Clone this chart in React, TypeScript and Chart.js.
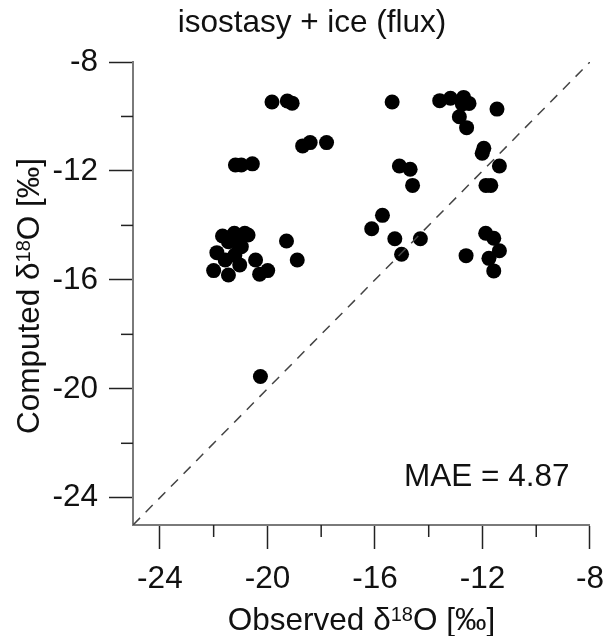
import React, { useEffect, useRef } from "react";
import { Chart, registerables } from "chart.js";

Chart.register(...registerables);

// Observed δ18O (x) and computed δ18O (y) per site
const observed: number[] = [
  -19.83, -19.26, -19.08, -15.36, -18.69, -18.41, -17.8, -21.19, -20.97, -20.56,
  -15.09, -14.69, -14.6, -15.72, -16.12, -15.26, -15.01, -14.31, -19.29, -18.89,
  -21.67, -21.23, -20.84, -21.45, -21.15, -21.88, -21.57, -21.21, -21.03, -20.44,
  -22.0, -21.45, -20.29, -19.99, -20.97, -21.33, -20.72, -13.59, -13.19, -12.7,
  -12.5, -12.75, -11.46, -12.86, -12.59, -11.95, -12.01, -11.37, -11.87, -11.69,
  -12.61, -11.88, -11.58, -11.37, -11.76, -11.58, -20.26,
];
const computed: number[] = [
  -9.47, -9.43, -9.51, -9.47, -11.08, -10.96, -10.96, -11.78, -11.78, -11.74,
  -11.82, -11.94, -12.53, -13.63, -14.12, -14.49, -15.06, -14.49, -14.57, -15.27,
  -14.39, -14.29, -14.29, -14.6, -14.6, -15.0, -15.27, -15.09, -15.45, -15.27,
  -15.66, -15.82, -15.79, -15.66, -14.78, -14.41, -14.35, -9.42, -9.33, -9.3,
  -9.52, -9.54, -9.73, -10.01, -10.41, -11.17, -11.35, -11.82, -12.53, -12.53,
  -15.11, -14.29, -14.47, -14.93, -15.21, -15.67, -19.55,
];

const axisMin = -25;
const axisMax = -8;
const majorTicks: number[] = [-24, -20, -16, -12, -8];
const minorTicks: number[] = [-22, -18, -14, -10];
const oneToOne: number[] = [-25, -8];

const titleText = "isostasy + ice (flux)";
const maeText = "MAE = 4.87";
const xTitleParts = [
  { t: "Observed \u03B4" },
  { t: "18", sup: true },
  { t: "O [\u2030]" },
];
const yTitleParts = [
  { t: "Computed \u03B4" },
  { t: "18", sup: true },
  { t: "O [\u2030]" },
];

const FONT = "'Liberation Sans', Arial, sans-serif";
const FS = 31.5;

function drawRich(ctx: CanvasRenderingContext2D, parts: { t: string; sup?: boolean }[], cx: number, baseY: number) {
  const big = `${FS}px ${FONT}`;
  const small = `20px ${FONT}`;
  let total = 0;
  const widths = parts.map((p) => {
    ctx.font = p.sup ? small : big;
    const w = ctx.measureText(p.t).width;
    total += w;
    return w;
  });
  let x = cx - total / 2;
  ctx.textAlign = "left";
  ctx.textBaseline = "alphabetic";
  parts.forEach((p, i) => {
    ctx.font = p.sup ? small : big;
    ctx.fillText(p.t, x, p.sup ? baseY - 9 : baseY);
    x += widths[i];
  });
}

const textPlugin = {
  id: "textPlugin",
  afterDraw(chart: any) {
    const ctx: CanvasRenderingContext2D = chart.ctx;
    const xs = chart.scales.x;
    const ys = chart.scales.y;
    const area = chart.chartArea;
    ctx.save();
    // minor ticks
    ctx.strokeStyle = "#222";
    ctx.lineWidth = 1.5;
    minorTicks.forEach((v) => {
      const px = xs.getPixelForValue(v);
      ctx.beginPath();
      ctx.moveTo(px, area.bottom);
      ctx.lineTo(px, area.bottom + 12);
      ctx.stroke();
      const py = ys.getPixelForValue(v);
      ctx.beginPath();
      ctx.moveTo(area.left, py);
      ctx.lineTo(area.left - 12, py);
      ctx.stroke();
    });
    ctx.fillStyle = "#111";
    ctx.font = `${FS}px ${FONT}`;
    ctx.textAlign = "center";
    ctx.textBaseline = "alphabetic";
    ctx.fillText(titleText, 312, 32);
    ctx.textAlign = "left";
    ctx.fillText(maeText, 404, 486);
    drawRich(ctx, xTitleParts, (area.left + area.right) / 2, 630);
    ctx.translate(39, 296);
    ctx.rotate(-Math.PI / 2);
    drawRich(ctx, yTitleParts, 0, 0);
    ctx.restore();
  },
};

export default function App() {
  const ref = useRef<HTMLCanvasElement | null>(null);
  useEffect(() => {
    if (!ref.current) return;
    const tickFont = { family: FONT, size: FS };
    const chart = new Chart(ref.current, {
      type: "scatter",
      data: {
        datasets: [
          {
            type: "line",
            data: oneToOne.map((v) => ({ x: v, y: v })),
            borderColor: "#444",
            borderWidth: 1.5,
            borderDash: [10, 8],
            pointRadius: 0,
            fill: false,
          } as any,
          {
            data: observed.map((v, i) => ({ x: v, y: computed[i] })),
            backgroundColor: "#000",
            borderColor: "#000",
            pointRadius: 7.5,
            borderWidth: 0,
          },
        ],
      },
      options: {
        responsive: false,
        animation: false,
        layout: { padding: { left: 0, top: 62, right: 17, bottom: 0 } },
        plugins: { legend: { display: false }, tooltip: { enabled: false } },
        scales: {
          x: {
            type: "linear",
            min: axisMin,
            max: axisMax,
            afterBuildTicks: (s: any) => {
              s.ticks = majorTicks.map((v) => ({ value: v }));
            },
            afterFit: (s: any) => {
              s.height = 111;
            },
            grid: {
              drawOnChartArea: false,
              drawTicks: true,
              tickLength: 24,
              tickColor: "#222",
              tickWidth: 1.5,
            },
            border: { display: true, color: "#7a7a7a", width: 2 },
            ticks: {
              font: tickFont,
              color: "#111",
              padding: 11,
              maxRotation: 0,
              autoSkip: false,
              callback: (v: any) => String(v),
            },
          },
          y: {
            type: "linear",
            min: axisMin,
            max: axisMax,
            afterBuildTicks: (s: any) => {
              s.ticks = majorTicks.map((v) => ({ value: v }));
            },
            afterFit: (s: any) => {
              s.width = 133;
            },
            grid: {
              drawOnChartArea: false,
              drawTicks: true,
              tickLength: 24,
              tickColor: "#222",
              tickWidth: 1.5,
            },
            border: { display: true, color: "#7a7a7a", width: 2 },
            ticks: {
              font: tickFont,
              color: "#111",
              padding: 11,
              autoSkip: false,
              callback: (v: any) => String(v),
            },
          },
        },
      },
      plugins: [textPlugin],
    });
    return () => chart.destroy();
  }, []);
  return (
    <div style={{ position: "absolute", left: 0, top: 0, width: 615, height: 636, background: "#fff" }}>
      <canvas ref={ref} width={615} height={636} style={{ display: "block" }} />
    </div>
  );
}
